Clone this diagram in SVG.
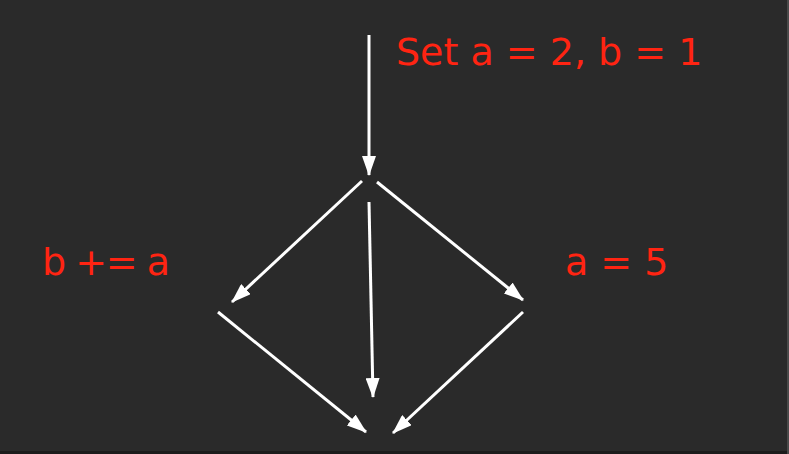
<svg xmlns="http://www.w3.org/2000/svg" width="789" height="454" viewBox="0 0 789 454">
  <style>
    .lbl { font-family: "DejaVu Sans", Verdana, sans-serif; font-size: 38px; fill: #ff2412; }
    .edge { stroke: #ffffff; stroke-width: 3; fill: none; marker-end: url(#ah); }
  </style>
  <defs>
    <marker id="ah" markerUnits="userSpaceOnUse" markerWidth="20" markerHeight="14" viewBox="0 0 20 14" refX="19" refY="7" orient="auto">
      <path d="M0,0 L20,7 L0,14 Z" fill="#ffffff"/>
    </marker>
  </defs>
  <rect x="0" y="0" width="789" height="454" fill="#2a2a2a"/>
  <rect x="0" y="451" width="789" height="3" fill="#1c1c1c"/>
  <rect x="787" y="0" width="2" height="454" fill="#4a4a4a"/>

  <g id="connectors">
    <line class="edge" x1="369" y1="35" x2="369" y2="175"/>
    <line class="edge" x1="362" y1="181" x2="232" y2="302"/>
    <line class="edge" x1="377" y1="182" x2="523" y2="300"/>
    <line class="edge" x1="369" y1="202" x2="373" y2="397"/>
    <line class="edge" x1="218" y1="312" x2="366" y2="432"/>
    <line class="edge" x1="523" y1="312" x2="393" y2="433"/>
  </g>

  <g id="node-init">
    <text class="lbl" x="396" y="65">Set a = 2, b = 1</text>
  </g>
  <g id="node-left">
    <text class="lbl" x="42" y="275" textLength="128" lengthAdjust="spacing">b += a</text>
  </g>
  <g id="node-right">
    <text class="lbl" x="565" y="275">a = 5</text>
  </g>
</svg>
